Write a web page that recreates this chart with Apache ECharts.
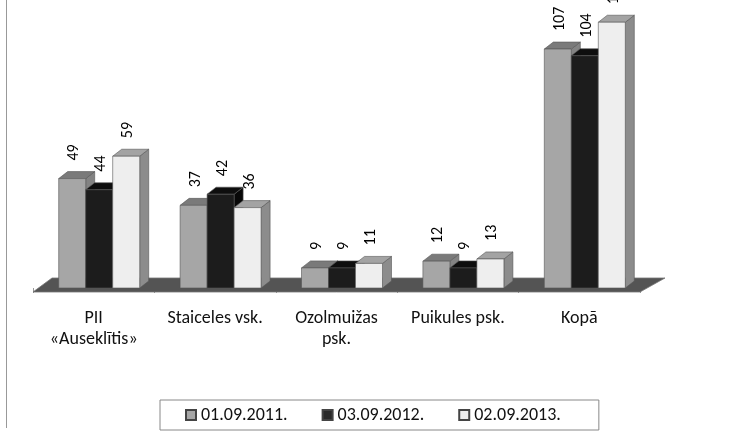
<!DOCTYPE html>
<html>
<head>
<meta charset="utf-8">
<script src="https://cdn.jsdelivr.net/npm/echarts@6/dist/echarts.min.js"></script>
<style>
  html, body { margin: 0; padding: 0; background: #fff; }
  #chart { width: 738px; height: 433px; }
</style>
</head>
<body>
<div id="chart"></div>
<script>
const categories = ['PII\n«Auseklītis»', 'Staiceles vsk.', 'Ozolmuižas\npsk.', 'Puikules psk.', 'Kopā'];
const seriesNames = ['01.09.2011.', '03.09.2012.', '02.09.2013.'];
const values2011 = [49, 37, 9, 12, 107];
const values2012 = [44, 42, 9, 9, 104];
const values2013 = [59, 36, 11, 13, 119];

const palettes = [
  { front: '#a6a6a6', top: '#7a7a7a', side: '#838383', legend: '#a6a6a6' },
  { front: '#1c1c1c', top: '#0e0e0e', side: '#080808', legend: '#2a2a2a' },
  { front: '#eeeeee', top: '#a3a3a3', side: '#8c8c8c', legend: '#eeeeee' }
];

const FONT = 'Carlito, Lato, sans-serif';
const BAR_W = 27, DX = 9, DY = -7, GROUP_OFF = 35;

function makeBarRender(i) {
  const pal = palettes[i];
  return function (params, api) {
    const cat = api.value(0), v = api.value(1);
    const top = api.coord([cat, v]);
    const base = api.coord([cat, 0]);
    const x0 = top[0] - GROUP_OFF + BAR_W * i;
    const x1 = x0 + BAR_W;
    const yT = top[1], yB = base[1];
    const stroke = { stroke: '#555', lineWidth: 0.6 };
    return {
      type: 'group',
      children: [
        { type: 'polygon', shape: { points: [[x1, yT], [x1 + DX, yT + DY], [x1 + DX, yB + DY], [x1, yB]] },
          style: Object.assign({ fill: pal.side }, stroke) },
        { type: 'polygon', shape: { points: [[x0, yT], [x1, yT], [x1 + DX, yT + DY], [x0 + DX, yT + DY]] },
          style: Object.assign({ fill: pal.top }, stroke) },
        { type: 'rect', shape: { x: x0, y: yT, width: BAR_W, height: yB - yT },
          style: Object.assign({ fill: pal.front }, stroke) },
        { type: 'text', x: x0 + BAR_W / 2 + 2, y: yT - 18, rotation: Math.PI / 2,
          style: { text: String(v), fill: '#000', fontSize: 16, fontFamily: FONT, align: 'left', verticalAlign: 'middle' } }
      ]
    };
  };
}

function floorRender(params, api) {
  const band = api.size([1, 0])[0];
  const a = api.coord([0, 0]);
  const b = api.coord([categories.length - 1, 0]);
  const xl = a[0] - band / 2, xr = b[0] + band / 2;
  const yf = a[1] + 4, yb = a[1] - 10;
  return {
    type: 'group',
    children: [
      { type: 'polygon', shape: { points: [[xl, yf], [xr, yf], [xr + 25, yb], [xl + 19, yb]] },
        style: { fill: '#545454', stroke: '#777', lineWidth: 0.8 } }
    ]
  };
}

const seriesData = [values2011, values2012, values2013];
const series = [{
  type: 'custom', name: 'floor', z: 1, clip: false, silent: true,
  renderItem: floorRender, data: [[0, 0]], encode: { x: 0, y: 1 }
}];
seriesData.forEach(function (vals, i) {
  series.push({
    type: 'custom', name: seriesNames[i], z: 2 + i, clip: false,
    itemStyle: { color: palettes[i].legend, borderColor: '#444', borderWidth: 1 },
    renderItem: makeBarRender(i),
    data: vals.map(function (v, k) { return [k, v]; }),
    encode: { x: 0, y: 1 }
  });
});

const chart = echarts.init(document.getElementById('chart'), null, { renderer: 'canvas' });
chart.setOption({
  animation: false,
  backgroundColor: '#fff',
  grid: { left: 33, right: 98, top: 20, bottom: 145, containLabel: false },
  xAxis: {
    type: 'category', data: categories, offset: 4,
    axisLine: { show: false },
    axisTick: { show: true, length: 5, lineStyle: { color: '#999' } },
    axisLabel: { color: '#111', fontSize: 18, fontFamily: FONT, lineHeight: 21, margin: 16, interval: 0 }
  },
  yAxis: { type: 'value', min: 0, max: 120, show: false, splitLine: { show: false } },
  legend: {
    data: seriesNames, left: 160, top: 400,
    padding: [6, 38, 6, 25], itemGap: 34,
    icon: 'rect', itemWidth: 10, itemHeight: 10,
    borderColor: '#888', borderWidth: 1,
    textStyle: { fontSize: 18, fontFamily: FONT, color: '#111' }
  },
  graphic: [
    { type: 'line', shape: { x1: 6.5, y1: 0, x2: 6.5, y2: 428 }, style: { stroke: '#999', lineWidth: 1 }, silent: true }
  ],
  series: series
});
</script>
</body>
</html>
